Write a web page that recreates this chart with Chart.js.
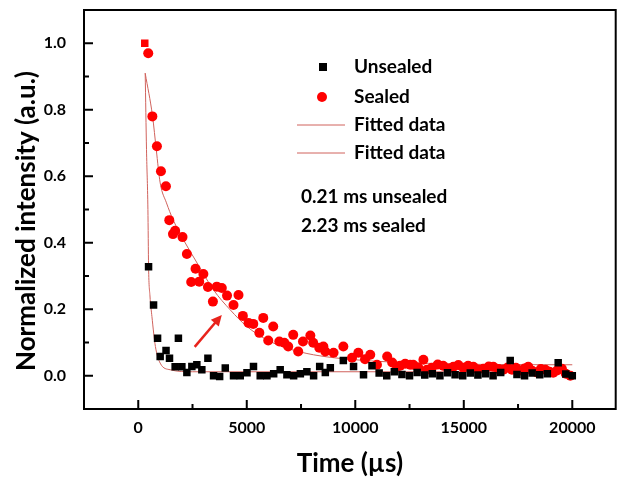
<!DOCTYPE html>
<html>
<head>
<meta charset="utf-8">
<script src="https://cdn.jsdelivr.net/npm/chart.js@4"></script>
<style>
  body { margin: 0; background: #fff; }
  #wrap { width: 621px; height: 479px; }
</style>
</head>
<body>
<div id="wrap"><canvas id="chart" width="621" height="479"></canvas></div>
<script>
// values (time in us, intensity normalized)
let unsealedTime = [300, 475, 705, 890, 1010, 1280, 1440, 1700, 1850, 2010, 2240, 2470, 2700, 2930,
  3210, 3470, 3750, 4010, 4390, 4700, 5010, 5310, 5620, 5930, 6240, 6540, 6850, 7160, 7470, 7770,
  8080, 8360, 8620, 8850, 9450, 9920, 10380, 10770, 11100, 11450, 11800, 12150, 12500, 12850, 13200,
  13550, 13900, 14250, 14600, 14950, 15300, 15650, 16000, 16350, 16700, 17140, 17450, 17800, 18150,
  18500, 18850, 19350, 19700, 20000];
let unsealedValue = [1.0, 0.328, 0.213, 0.113, 0.058, 0.076, 0.053, 0.027, 0.113, 0.027, 0.01, 0.028,
  0.033, 0.018, 0.053, 0.0, -0.002, 0.023, 0.0, 0.0, 0.009, 0.028, 0.0, 0.0, 0.006, 0.018, 0.003, 0.0,
  0.006, 0.012, 0.0, 0.028, 0.01, 0.024, 0.046, 0.028, 0.003, 0.03, 0.008, 0.0, 0.012, 0.004, 0.0,
  0.01, 0.002, 0.006, 0.0, 0.009, 0.003, 0.0, 0.008, 0.002, 0.006, 0.0, 0.01, 0.046, 0.004, 0.0,
  0.008, 0.003, 0.006, 0.039, 0.005, 0.0];

let sealedTime = [460, 650, 860, 1045, 1275, 1430, 1600, 1700, 2040, 2240, 2440, 2640, 2810, 3000,
  3210, 3440, 3620, 3850, 4090, 4390, 4620, 4820, 5080, 5300, 5580, 5760, 5990, 6220, 6500, 6730,
  6910, 7140, 7370, 7590, 7930, 8060, 8340, 8530, 8620, 9000, 9450, 9850, 10140, 10450, 10690, 11000,
  11470, 11700, 11920, 12070, 12300, 12530, 12670, 12900, 13140, 13300, 13530, 13800, 14050, 14300,
  14520, 14750, 14980, 15200, 15440, 15650, 15900, 16150, 16360, 16600, 16820, 17020, 17220, 17400,
  17600, 17800, 17970, 18150, 18370, 18550, 18760, 18950, 19120, 19300, 19520, 19700, 19910];
let sealedValue = [0.97, 0.78, 0.69, 0.615, 0.57, 0.468, 0.426, 0.436, 0.417, 0.366, 0.282, 0.322,
  0.283, 0.306, 0.267, 0.223, 0.268, 0.264, 0.241, 0.213, 0.243, 0.18, 0.159, 0.156, 0.129, 0.174,
  0.106, 0.148, 0.103, 0.099, 0.088, 0.123, 0.073, 0.103, 0.121, 0.099, 0.084, 0.088, 0.073, 0.069,
  0.088, 0.054, 0.069, 0.05, 0.063, 0.033, 0.058, 0.04, 0.028, 0.03, 0.036, 0.033, 0.033, 0.025,
  0.048, 0.018, 0.024, 0.034, 0.03, 0.022, 0.027, 0.032, 0.024, 0.03, 0.027, 0.019, 0.021, 0.028,
  0.027, 0.02, 0.018, 0.025, 0.018, 0.024, 0.016, 0.022, 0.027, 0.015, 0.01, 0.02, 0.018, 0.012,
  0.009, 0.016, 0.021, 0.006, 0.0];

// fitted curves
let unsealedFitTime = [320, 380, 445, 475, 540, 630, 790, 1010, 1470, 2500, 20000];
let unsealedFitValue = [0.91, 0.68, 0.5, 0.33, 0.24, 0.178, 0.088, 0.038, 0.018, 0.012, 0.012];
let sealedFitTime = [320, 660, 830, 1010, 1300, 1600, 2090, 2630, 3470, 4240, 5010, 5930, 6850, 8080,
  10000, 13000, 16000, 20000];
let sealedFitValue = [0.91, 0.78, 0.68, 0.58, 0.52, 0.47, 0.408, 0.348, 0.258, 0.198, 0.148, 0.108,
  0.083, 0.063, 0.048, 0.038, 0.034, 0.033];

let xMajor = [0, 5000, 10000, 15000, 20000];
let xMinor = [-2500, 2500, 7500, 12500, 17500];
let yMajor = [0.0, 0.2, 0.4, 0.6, 0.8, 1.0];
let yMinor = [-0.1, 0.1, 0.3, 0.5, 0.7, 0.9];

let lifetimeNotes = ["0.21 ms unsealed", "2.23 ms sealed"];
let arrowFrom = [2600, 0.087];
let arrowTo = [3850, 0.183];

function pairs(xs, ys) {
  return xs.map(function (x, i) { return { x: x, y: ys[i] }; });
}

let red = "#ff0000";
let fitColor = "#d0625c";
let font = "Lato, 'Open Sans', sans-serif";

let framePlugin = {
  id: "frame",
  afterDraw: function (c) {
    let ctx = c.ctx;
    let a = c.chartArea;
    let xs = c.scales.x;
    let ys = c.scales.y;
    ctx.save();
    ctx.strokeStyle = "#000";
    ctx.lineWidth = 2;
    ctx.strokeRect(a.left, a.top, a.right - a.left, a.bottom - a.top);
    ctx.beginPath();
    xMajor.forEach(function (v) { let p = xs.getPixelForValue(v); ctx.moveTo(p, a.bottom); ctx.lineTo(p, a.bottom - 9); });
    xMinor.forEach(function (v) { let p = xs.getPixelForValue(v); ctx.moveTo(p, a.bottom); ctx.lineTo(p, a.bottom - 5); });
    yMajor.forEach(function (v) { let p = ys.getPixelForValue(v); ctx.moveTo(a.left, p); ctx.lineTo(a.left + 9, p); });
    yMinor.forEach(function (v) { let p = ys.getPixelForValue(v); ctx.moveTo(a.left, p); ctx.lineTo(a.left + 5, p); });
    ctx.stroke();

    // arrow
    let x1 = xs.getPixelForValue(arrowFrom[0]), y1 = ys.getPixelForValue(arrowFrom[1]);
    let x2 = xs.getPixelForValue(arrowTo[0]), y2 = ys.getPixelForValue(arrowTo[1]);
    let ang = Math.atan2(y2 - y1, x2 - x1);
    ctx.strokeStyle = "#e8231c";
    ctx.fillStyle = "#e8231c";
    ctx.lineWidth = 2.5;
    ctx.beginPath();
    ctx.moveTo(x1, y1);
    ctx.lineTo(x2 - 8 * Math.cos(ang), y2 - 8 * Math.sin(ang));
    ctx.stroke();
    ctx.beginPath();
    ctx.moveTo(x2, y2);
    ctx.lineTo(x2 - 12 * Math.cos(ang - 0.45), y2 - 12 * Math.sin(ang - 0.45));
    ctx.lineTo(x2 - 12 * Math.cos(ang + 0.45), y2 - 12 * Math.sin(ang + 0.45));
    ctx.closePath();
    ctx.fill();

    // legend
    ctx.fillStyle = "#000";
    ctx.font = "bold 19px " + font;
    ctx.textBaseline = "middle";
    ctx.textAlign = "left";
    ctx.fillRect(319, 63, 8, 8);
    ctx.fillText(c.data.datasets[0].label, 354, 67);
    ctx.fillStyle = red;
    ctx.beginPath();
    ctx.arc(322, 97, 5, 0, Math.PI * 2);
    ctx.fill();
    ctx.fillStyle = "#000";
    ctx.fillText(c.data.datasets[1].label, 354, 97);
    ctx.strokeStyle = fitColor;
    ctx.lineWidth = 1;
    ctx.beginPath();
    ctx.moveTo(297, 125); ctx.lineTo(345, 125);
    ctx.moveTo(297, 153); ctx.lineTo(345, 153);
    ctx.stroke();
    ctx.fillText(c.data.datasets[2].label, 354, 125);
    ctx.fillText(c.data.datasets[3].label, 354, 153);
    ctx.fillText(lifetimeNotes[0], 301, 197);
    ctx.fillText(lifetimeNotes[1], 301, 226);

    // y title
    ctx.font = "bold 26px " + font;
    ctx.textAlign = "center";
    ctx.translate(27, 221);
    ctx.rotate(-Math.PI / 2);
    ctx.fillText("Normalized intensity (a.u.)", 0, 0);
    ctx.restore();
  }
};

let chart = new Chart(document.getElementById("chart"), {
  type: "scatter",
  data: {
    datasets: [
      {
        label: "Unsealed",
        data: pairs(unsealedTime, unsealedValue),
        pointStyle: "rect",
        pointRadius: 5.3,
        pointBorderWidth: 0,
        backgroundColor: unsealedTime.map(function (t, i) { return i === 0 ? red : "#000"; }),
        borderColor: "#000",
      },
      {
        label: "Sealed",
        data: pairs(sealedTime, sealedValue),
        pointStyle: "circle",
        pointRadius: 5,
        pointBorderWidth: 0,
        backgroundColor: red,
        borderColor: red,
      },
      {
        label: "Fitted data",
        type: "line",
        data: pairs(unsealedFitTime, unsealedFitValue),
        borderColor: fitColor,
        borderWidth: 1,
        pointRadius: 0,
        cubicInterpolationMode: "monotone",
      },
      {
        label: "Fitted data",
        type: "line",
        data: pairs(sealedFitTime, sealedFitValue),
        borderColor: fitColor,
        borderWidth: 1,
        pointRadius: 0,
        cubicInterpolationMode: "monotone",
      },
    ],
  },
  options: {
    responsive: false,
    animation: false,
    layout: { padding: { top: 10, right: 2, left: 0, bottom: 0 } },
    plugins: { legend: { display: false }, tooltip: { enabled: false } },
    scales: {
      x: {
        type: "linear",
        min: -2500,
        max: 22000,
        afterFit: function (s) { s.height = 70; s.paddingLeft = 0; s.paddingRight = 0; },
        afterBuildTicks: function (s) { s.ticks = xMajor.map(function (v) { return { value: v }; }); },
        grid: { display: false },
        border: { display: false },
        ticks: {
          color: "#000",
          padding: 1,
          font: { family: font, size: 16, weight: "bold" },
          callback: function (v) { return String(v); },
        },
        title: {
          display: true,
          text: "Time (\u00b5s)",
          color: "#000",
          padding: { top: 0, bottom: 0 },
          font: { family: font, size: 26, weight: "bold" },
        },
      },
      y: {
        min: -0.1,
        max: 1.1,
        afterFit: function (s) { s.width = 84; s.paddingTop = 0; s.paddingBottom = 0; },
        afterBuildTicks: function (s) { s.ticks = yMajor.map(function (v) { return { value: v }; }); },
        grid: { display: false },
        border: { display: false },
        ticks: {
          color: "#000",
          padding: 10,
          font: { family: font, size: 16, weight: "bold" },
          callback: function (v) { return v.toFixed(1); },
        },
      },
    },
  },
  plugins: [framePlugin],
});
</script>
</body>
</html>
